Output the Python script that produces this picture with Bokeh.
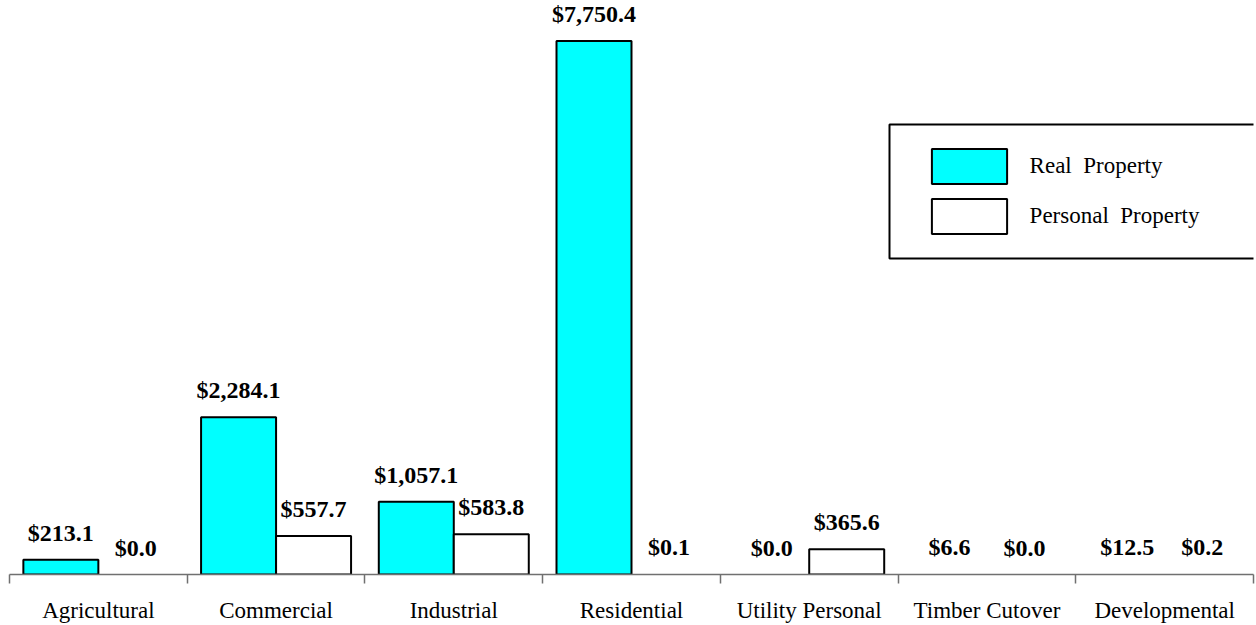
from bokeh.plotting import figure
from bokeh.models import (ColumnDataSource, LabelSet, Legend, LegendItem,
                          FixedTicker, BoxAnnotation)
from bokeh.embed import file_html
from bokeh.resources import INLINE

# Assessed value by property class (millions of dollars)
categories = ["Agricultural", "Commercial", "Industrial", "Residential",
              "Utility Personal", "Timber Cutover", "Developmental"]
real_property = [213.1, 2284.1, 1057.1, 7750.4, 0.0, 6.6, 12.5]
personal_property = [0.0, 557.7, 583.8, 0.1, 365.6, 0.0, 0.2]

Y_MAX = 8340
FRAME_W, FRAME_H = 1244, 574
BAR_W = 0.422
SHIFT = 0.211
FONT = "Liberation Serif"


def series_source(values, shift):
    px_per_unit = FRAME_H / Y_MAX
    return ColumnDataSource(dict(
        x=[i + 0.5 + shift for i in range(len(values))],
        top=values,
        label=[f"${v:,.1f}" for v in values],
        # bars thinner than a pixel are not painted
        alpha=[1.0 if v * px_per_unit >= 1 else 0.0 for v in values],
    ))


real_src = series_source(real_property, -SHIFT)
pers_src = series_source(personal_property, SHIFT)

p = figure(frame_width=FRAME_W, frame_height=FRAME_H,
           x_range=(0, len(categories)), y_range=(0, Y_MAX),
           output_backend="svg", toolbar_location=None,
           y_axis_location=None,
           min_border_left=9, min_border_right=3,
           min_border_top=0, min_border_bottom=51)
p.outline_line_color = None
p.xgrid.visible = False
p.ygrid.visible = False
p.background_fill_color = "white"
p.border_fill_color = "white"

r_real = p.vbar(x="x", top="top", width=BAR_W, bottom=0, source=real_src,
                fill_color="#00FFFF", fill_alpha="alpha",
                line_color="black", line_width=2, line_alpha="alpha")
r_pers = p.vbar(x="x", top="top", width=BAR_W, bottom=0, source=pers_src,
                fill_color="white", fill_alpha="alpha",
                line_color="black", line_width=2, line_alpha="alpha")

for src in (real_src, pers_src):
    p.add_layout(LabelSet(x="x", y="top", text="label", source=src,
                          y_offset=19, text_align="center",
                          text_baseline="alphabetic",
                          text_font=FONT, text_font_size="24px",
                          text_font_style="bold", text_color="black"))

ax = p.xaxis[0]
centers = [i + 0.5 for i in range(len(categories))]
ax.ticker = FixedTicker(ticks=centers,
                        minor_ticks=list(range(len(categories) + 1)))
ax.major_label_overrides = {c: name for c, name in zip(centers, categories)}
ax.major_tick_out = 0
ax.major_tick_in = 0
ax.minor_tick_out = 9
ax.minor_tick_in = 0
ax.minor_tick_line_color = "#707070"
ax.minor_tick_line_width = 1.5
ax.axis_line_color = "#707070"
ax.axis_line_width = 1.5
ax.major_label_standoff = 14
ax.major_label_text_font = FONT
ax.major_label_text_font_size = "23px"
ax.major_label_text_color = "black"

# legend swatches are drawn inset by 10% of the glyph box on each side
legend = Legend(items=[LegendItem(label="Real  Property", renderers=[r_real], index=1),
                       LegendItem(label="Personal  Property", renderers=[r_pers], index=1)],
                location=(912.6, 335.6), orientation="vertical",
                padding=0, margin=0, spacing=6,
                glyph_width=94, glyph_height=44, label_standoff=14,
                label_text_font=FONT, label_text_font_size="23px",
                label_text_color="black",
                border_line_color=None, background_fill_alpha=0)
p.add_layout(legend, "center")

p.add_layout(BoxAnnotation(left=880, right=1400, top=450, bottom=316,
                           left_units="screen", right_units="screen",
                           top_units="screen", bottom_units="screen",
                           fill_alpha=0, line_color="black", line_alpha=1.0,
                           line_width=2, level="overlay"))

open("out.html", "w").write(file_html(p, INLINE))
